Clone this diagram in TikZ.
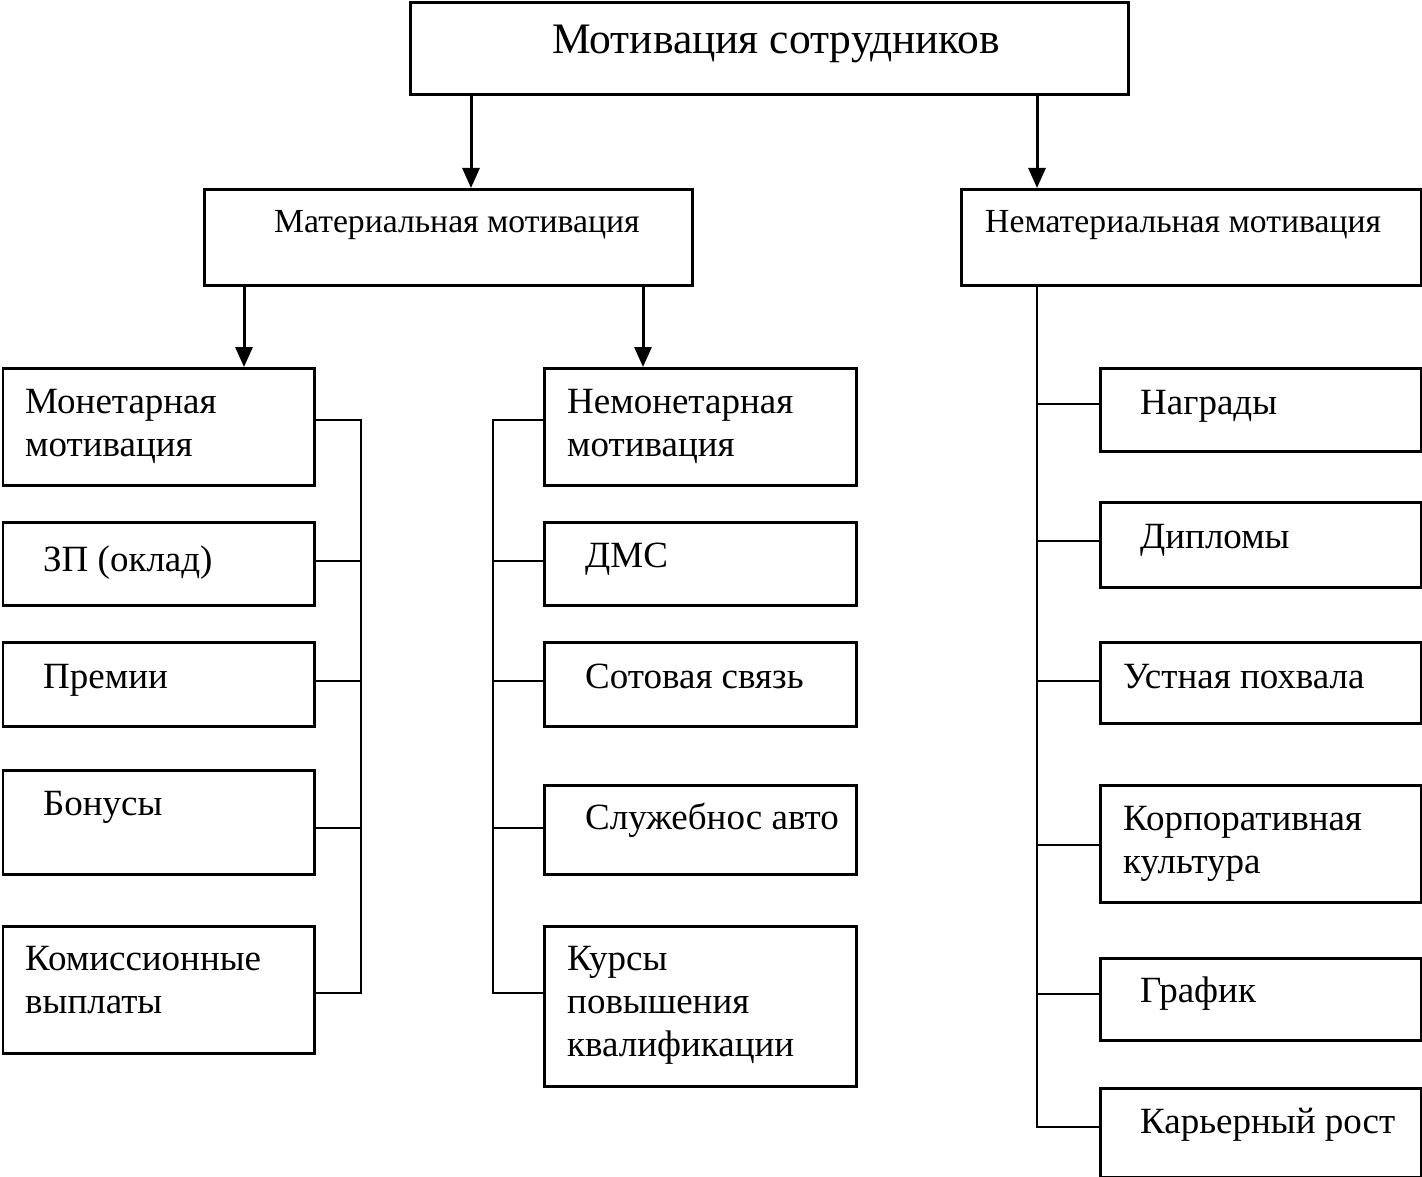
\documentclass[tikz,border=0pt]{standalone}
\usepackage{fontspec}
\setmainfont{Liberation Serif}
\usetikzlibrary{arrows.meta}
\newcommand{\mlines}[1]{\begin{tabular}[t]{@{}l@{}}#1\end{tabular}}
\newcommand{\mkbox}[5]{\node[bx, minimum width={(#4-#2)*1pt}, minimum height={(#5-#3)*1pt}] (#1) at (#2,#3) {};}
\begin{document}
\begin{tikzpicture}[x=1pt,y=-1pt,
  bx/.style={draw, line width=2.8pt, anchor=north west, inner sep=0pt},
  lbl/.style={anchor=base west, inner sep=0pt, font=\fontsize{37}{43}\selectfont},
  mid/.style={anchor=base west, inner sep=0pt, font=\fontsize{33.7}{40}\selectfont},
  ln/.style={line width=2.5pt},
  arr/.style={line width=3pt, -{Triangle[width=17pt,length=20pt]}}]
\useasboundingbox[fill=white] (0,0) rectangle (1422,1177);

% boxes
\mkbox{top}{409}{1.5}{1127}{93}
\mkbox{mat}{203}{188}{691}{284}
\mkbox{nem}{960}{188}{1420}{284}
\mkbox{mon}{1.5}{367}{313}{484}
\mkbox{zp}{1.5}{521}{313}{604}
\mkbox{prem}{1.5}{641}{313}{725}
\mkbox{bon}{1.5}{769}{313}{873}
\mkbox{kom}{1.5}{925}{313}{1052}
\mkbox{nmon}{543}{367}{855}{484}
\mkbox{dms}{543}{521}{855}{604}
\mkbox{sot}{543}{641}{855}{725}
\mkbox{slu}{543}{784}{855}{873}
\mkbox{kur}{543}{925}{855}{1085}
\mkbox{nag}{1099}{367}{1420}{450}
\mkbox{dip}{1099}{501}{1420}{586}
\mkbox{ust}{1099}{641}{1420}{722}
\mkbox{kor}{1099}{784}{1420}{901}
\mkbox{gra}{1099}{957}{1420}{1039}
\mkbox{kar}{1099}{1087}{1420}{1175.5}

% texts
\node[anchor=base, inner sep=0pt, font=\fontsize{43.5}{50}\selectfont] (ttop) at (776,54) {Мотивация сотрудников};
\node[mid] (tmat) at (274,233) {Материальная мотивация};
\node[mid] (tnem) at (985,233) {Нематериальная мотивация};
\node[lbl] (tmon) at (25,413) {\mlines{Монетарная\\мотивация}};
\node[lbl] (tzp) at (43,571) {ЗП (оклад)};
\node[lbl] (tprem) at (43,688) {Премии};
\node[lbl] (tbon) at (43,815) {Бонусы};
\node[lbl] (tkom) at (25,970) {\mlines{Комиссионные\\выплаты}};
\node[lbl] (tnmon) at (567,413) {\mlines{Немонетарная\\мотивация}};
\node[lbl] (tdms) at (585,567) {ДМС};
\node[lbl] (tsot) at (585,688) {Сотовая связь};
\node[lbl] (tslu) at (585,829) {Служебнос авто};
\node[lbl] (tkur) at (567,970) {\mlines{Курсы\\повышения\\квалификации}};
\node[lbl] (tnag) at (1140,414) {Награды};
\node[lbl] (tdip) at (1140,548) {Дипломы};
\node[lbl] (tust) at (1123,688) {Устная похвала};
\node[lbl] (tkor) at (1123,830) {\mlines{Корпоративная\\культура}};
\node[lbl] (tgra) at (1140,1002) {График};
\node[lbl] (tkar) at (1140,1133) {Карьерный рост};

% arrows
\draw[arr] (top.south -| 471,0) -- (mat.north -| 471,0);
\draw[arr] (top.south -| 1037,0) -- (nem.north -| 1037,0);
\draw[arr] (mat.south -| 244,0) -- (mon.north -| 244,0);
\draw[arr] (mat.south -| 643,0) -- (nmon.north -| 643,0);

% left bus
\coordinate (lb1) at (361,420);
\coordinate (lb5) at (361,993);
\draw[ln] (mon.east |- lb1) -- (lb1) -- (lb5) -- (kom.east |- lb5);
\draw[ln] (zp.east |- 0,561) -- (361,561);
\draw[ln] (prem.east |- 0,681) -- (361,681);
\draw[ln] (bon.east |- 0,828) -- (361,828);

% middle bus
\coordinate (mb1) at (493,420);
\coordinate (mb5) at (493,993);
\draw[ln] (nmon.west |- mb1) -- (mb1) -- (mb5) -- (kur.west |- mb5);
\draw[ln] (dms.west |- 0,561) -- (493,561);
\draw[ln] (sot.west |- 0,681) -- (493,681);
\draw[ln] (slu.west |- 0,828) -- (493,828);

% right bus
\coordinate (rb0) at (1037,284);
\coordinate (rb6) at (1037,1127);
\draw[ln] (nem.south -| rb0) -- (rb6) -- (kar.west |- rb6);
\draw[ln] (nag.west |- 0,404) -- (1037,404);
\draw[ln] (dip.west |- 0,541) -- (1037,541);
\draw[ln] (ust.west |- 0,681) -- (1037,681);
\draw[ln] (kor.west |- 0,845) -- (1037,845);
\draw[ln] (gra.west |- 0,994) -- (1037,994);
\end{tikzpicture}
\end{document}
